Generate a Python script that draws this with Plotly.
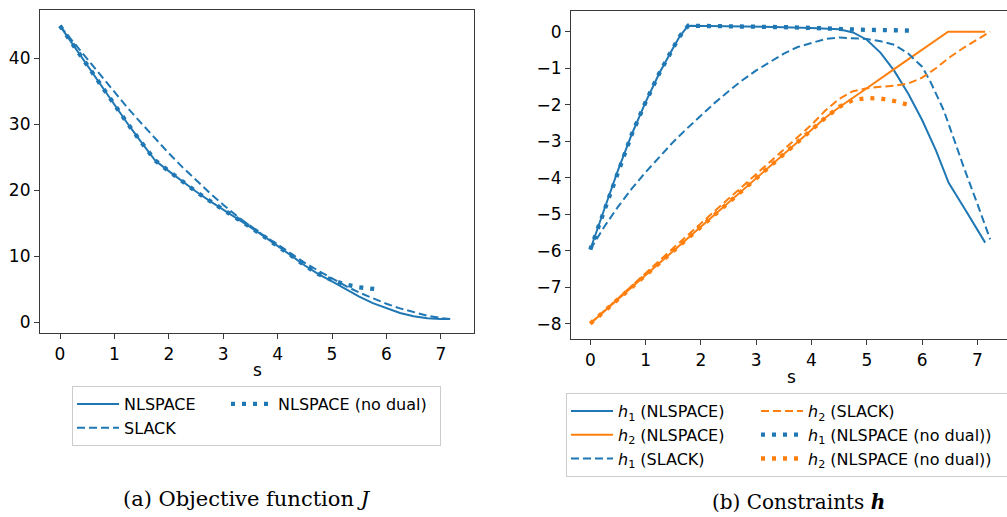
import plotly.graph_objects as go

BLUE = "#1f77b4"
ORANGE = "#ff7f0e"

# ---------------- (a) Objective function J ----------------
s_J_nl = [0, 0.25, 0.5, 0.75, 1.0, 1.25, 1.5, 1.75, 2.0, 2.25, 2.5, 2.75, 3.0, 3.25, 3.5,
          3.75, 4.0, 4.25, 4.5, 4.75, 5.0, 5.25, 5.5, 5.75, 6.0, 6.25, 6.5, 6.75, 7.0, 7.15]
J_nl = [44.9, 41.9, 39.0, 36.0, 33.0, 30.0, 27.2, 24.5, 22.9, 21.3, 19.8, 18.4, 17.1, 15.8, 14.4,
        13.0, 11.6, 10.1, 8.6, 7.3, 6.2, 5.0, 3.9, 2.9, 2.1, 1.4, 0.9, 0.6, 0.5, 0.5]

s_J_slack = [0, 0.25, 0.5, 0.75, 1.0, 1.25, 1.5, 1.75, 2.0, 2.25, 2.5, 2.75, 3.0, 3.25, 3.5,
             3.75, 4.0, 4.25, 4.5, 4.75, 5.0, 5.25, 5.5, 5.75, 6.0, 6.25, 6.5, 6.75, 7.0, 7.23]
J_slack = [44.9, 42.4, 39.8, 37.3, 34.8, 32.4, 30.1, 27.8, 25.6, 23.5, 21.5, 19.6, 17.8, 16.1, 14.6,
           13.1, 11.8, 10.4, 9.0, 7.8, 6.6, 5.5, 4.5, 3.6, 2.8, 2.1, 1.5, 1.0, 0.65, 0.45]

s_J_nodual = [0, 0.25, 0.5, 0.75, 1.0, 1.25, 1.5, 1.75, 2.0, 2.25, 2.5, 2.75, 3.0, 3.25, 3.5,
              3.75, 4.0, 4.25, 4.5, 4.75, 5.0, 5.25, 5.5, 5.82]
J_nodual = [44.9, 41.9, 39.0, 36.0, 33.0, 30.0, 27.2, 24.5, 22.9, 21.3, 19.8, 18.4, 17.1, 15.8, 14.4,
            13.0, 11.6, 10.1, 8.6, 7.3, 6.4, 5.7, 5.3, 5.0]

# ---------------- (b) Constraints h ----------------
s_h1_nl = [0, 0.1, 0.25, 0.5, 0.75, 1.0, 1.25, 1.5, 1.62, 1.77, 2.5, 3.0, 3.5, 4.0, 4.5, 4.75,
           5.0, 5.25, 5.5, 5.75, 6.0, 6.25, 6.48, 6.8, 7.14]
h1_nl = [-5.97, -5.55, -4.88, -3.8, -2.81, -1.93, -1.13, -0.44, -0.12, 0.165, 0.155, 0.14, 0.125,
         0.105, 0.07, -0.02, -0.22, -0.58, -1.08, -1.7, -2.42, -3.25, -4.14, -4.93, -5.78]

s_h2_nl = [0, 0.5, 1.0, 1.5, 2.0, 2.5, 3.0, 3.5, 4.0, 4.25, 4.5, 4.75, 5.0, 5.5, 6.0, 6.47, 7.14]
h2_nl = [-8.0, -7.335, -6.67, -6.0, -5.34, -4.67, -4.0, -3.34, -2.68, -2.36, -2.07, -1.8,
         -1.55, -1.02, -0.5, 0.0, 0.0]

s_h1_slack = [0, 0.25, 0.5, 0.75, 1.0, 1.25, 1.5, 1.75, 2.0, 2.25, 2.5, 2.75, 3.0, 3.25, 3.5,
              3.75, 4.0, 4.25, 4.5, 4.75, 5.0, 5.25, 5.5, 5.75, 6.0, 6.15, 6.39, 6.57, 6.75,
              7.0, 7.23]
h1_slack = [-5.97, -5.35, -4.8, -4.3, -3.85, -3.42, -3.02, -2.65, -2.3, -1.95, -1.63, -1.33,
            -1.06, -0.82, -0.6, -0.42, -0.3, -0.2, -0.16, -0.17, -0.2, -0.26, -0.36, -0.6,
            -0.96, -1.37, -2.15, -2.92, -3.7, -4.72, -5.69]

s_h2_slack = [0, 0.5, 1.0, 1.5, 2.0, 2.5, 3.0, 3.5, 4.0, 4.25, 4.5, 4.75, 5.0, 5.25, 5.5,
              5.75, 6.0, 6.25, 6.5, 6.75, 7.0, 7.23]
h2_slack = [-8.0, -7.3, -6.62, -5.93, -5.25, -4.57, -3.9, -3.23, -2.55, -2.16, -1.84, -1.63,
            -1.55, -1.51, -1.48, -1.42, -1.26, -1.0, -0.7, -0.44, -0.2, 0.0]

s_h1_nodual = [0, 0.1, 0.25, 0.5, 0.75, 1.0, 1.25, 1.5, 1.62, 1.77, 2.5, 3.0, 3.5, 4.0, 4.5,
               4.75, 5.0, 5.5, 5.77]
h1_nodual = [-5.97, -5.55, -4.88, -3.8, -2.81, -1.93, -1.13, -0.44, -0.12, 0.165, 0.155, 0.14,
             0.125, 0.105, 0.07, 0.06, 0.05, 0.04, 0.03]

s_h2_nodual = [0, 0.5, 1.0, 1.5, 2.0, 2.5, 3.0, 3.5, 4.0, 4.25, 4.5, 4.75, 5.0, 5.25, 5.5, 5.84]
h2_nodual = [-8.0, -7.335, -6.67, -6.0, -5.34, -4.67, -4.0, -3.34, -2.68, -2.36, -2.06, -1.87,
             -1.82, -1.83, -1.9, -2.04]

x_ticks = [0, 1, 2, 3, 4, 5, 6, 7]
yJ_ticks = [0, 10, 20, 30, 40]
yh_ticks = [0, -1, -2, -3, -4, -5, -6, -7, -8]

W, H = 1007, 517
SOLID = dict(width=2)
DASH = dict(width=2, dash="8px,4px")
DOT = dict(width=4.3, dash="4px,7px")

fig = go.Figure()

# left plot
fig.add_trace(go.Scatter(x=s_J_nl, y=J_nl, mode="lines", name="NLSPACE",
                         line=dict(color=BLUE, **SOLID), xaxis="x", yaxis="y",
                         legend="legend", legendgroup="a1", legendwidth=97))
fig.add_trace(go.Scatter(x=s_J_slack, y=J_slack, mode="lines", name="SLACK",
                         line=dict(color=BLUE, **DASH), xaxis="x", yaxis="y",
                         legend="legend", legendgroup="a1", legendwidth=97))
fig.add_trace(go.Scatter(x=s_J_nodual, y=J_nodual, mode="lines", name="NLSPACE (no dual)",
                         line=dict(color=BLUE, **DOT), xaxis="x", yaxis="y",
                         legend="legend", legendgroup="a2", legendwidth=157))

# right plot
def h(i):
    return "<i>h</i><sub>%d</sub>" % i

fig.add_trace(go.Scatter(x=s_h1_nl, y=h1_nl, mode="lines", name=h(1) + " (NLSPACE)",
                         line=dict(color=BLUE, **SOLID), xaxis="x2", yaxis="y2",
                         legend="legend2", legendgroup="b1", legendwidth=133))
fig.add_trace(go.Scatter(x=s_h2_nl, y=h2_nl, mode="lines", name=h(2) + " (NLSPACE)",
                         line=dict(color=ORANGE, **SOLID), xaxis="x2", yaxis="y2",
                         legend="legend2", legendgroup="b1", legendwidth=133))
fig.add_trace(go.Scatter(x=s_h1_slack, y=h1_slack, mode="lines", name=h(1) + " (SLACK)",
                         line=dict(color=BLUE, **DASH), xaxis="x2", yaxis="y2",
                         legend="legend2", legendgroup="b1", legendwidth=133))
fig.add_trace(go.Scatter(x=s_h2_slack, y=h2_slack, mode="lines", name=h(2) + " (SLACK)",
                         line=dict(color=ORANGE, **DASH), xaxis="x2", yaxis="y2",
                         legend="legend2", legendgroup="b2", legendwidth=230))
fig.add_trace(go.Scatter(x=s_h1_nodual, y=h1_nodual, mode="lines",
                         name=h(1) + " (NLSPACE (no dual))",
                         line=dict(color=BLUE, **DOT), xaxis="x2", yaxis="y2",
                         legend="legend2", legendgroup="b2", legendwidth=230))
fig.add_trace(go.Scatter(x=s_h2_nodual, y=h2_nodual, mode="lines",
                         name=h(2) + " (NLSPACE (no dual))",
                         line=dict(color=ORANGE, **DOT), xaxis="x2", yaxis="y2",
                         legend="legend2", legendgroup="b2", legendwidth=230))

TICKFONT = dict(family="DejaVu Sans", size=17, color="#000000")
axis_common = dict(showline=True, linecolor="#3a3a3a", linewidth=1.2, mirror=True,
                   ticks="outside", ticklen=5, tickwidth=1.1, tickcolor="#3a3a3a",
                   showgrid=False, zeroline=False, tickfont=TICKFONT)

def px_x(p):
    return p / W

def px_y(p):
    return 1 - p / H

fig.update_layout(
    width=W, height=H,
    margin=dict(l=0, r=0, t=0, b=0, autoexpand=False),
    paper_bgcolor="white", plot_bgcolor="white",
    xaxis=dict(domain=[px_x(40), px_x(474)], range=[-0.368, 7.61], tickvals=x_ticks,
               anchor="y", **axis_common),
    yaxis=dict(domain=[px_y(333.3), px_y(10)], range=[-1.67, 47.3], tickvals=yJ_ticks,
               anchor="x", **axis_common),
    xaxis2=dict(domain=[px_x(571), 1.0], range=[-0.349, 7.535], tickvals=x_ticks,
                anchor="y2", **axis_common),
    yaxis2=dict(domain=[px_y(339.3), px_y(10.7)], range=[-8.43, 0.576], tickvals=yh_ticks,
                anchor="x2", **axis_common),
    legend=dict(orientation="h", traceorder="grouped", x=px_x(72), y=px_y(386),
                xanchor="left", yanchor="top", bgcolor="white", bordercolor="#cccccc",
                borderwidth=1, itemwidth=42,
                font=dict(family="DejaVu Sans", size=16, color="#000000")),
    legend2=dict(orientation="h", traceorder="grouped", x=px_x(566), y=px_y(393),
                 xanchor="left", yanchor="top", bgcolor="white", bordercolor="#cccccc",
                 borderwidth=1, itemwidth=42,
                 font=dict(family="DejaVu Sans", size=16, color="#000000")),
    annotations=[
        dict(text="s", x=px_x(257), y=px_y(370), xref="paper", yref="paper",
             showarrow=False, xanchor="center", yanchor="middle",
             font=dict(family="DejaVu Sans", size=17, color="#000000")),
        dict(text="s", x=px_x(791), y=px_y(377), xref="paper", yref="paper",
             showarrow=False, xanchor="center", yanchor="middle",
             font=dict(family="DejaVu Sans", size=17, color="#000000")),
        dict(text="(a) Objective function <i>J</i>", x=px_x(247), y=px_y(499),
             xref="paper", yref="paper", showarrow=False, xanchor="center", yanchor="middle",
             font=dict(family="DejaVu Serif", size=21, color="#000000")),
        dict(text="(b) Constraints <b><i>h</i></b>", x=px_x(798), y=px_y(502),
             xref="paper", yref="paper", showarrow=False, xanchor="center", yanchor="middle",
             font=dict(family="DejaVu Serif", size=20, color="#000000")),
    ],
)

fig.write_html("out.html", config={"displayModeBar": False},
               post_script="document.body.style.margin='0';document.body.style.overflow='hidden';")
